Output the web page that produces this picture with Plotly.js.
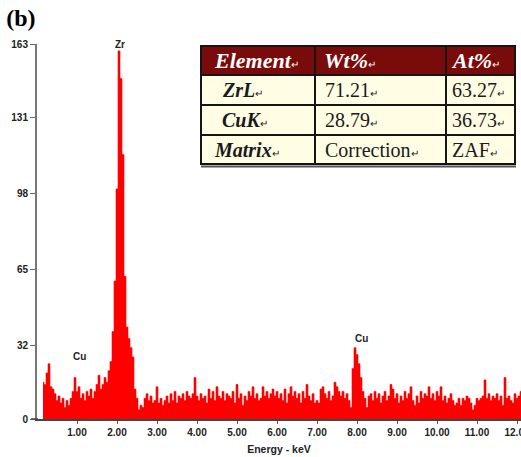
<!DOCTYPE html>
<html>
<head>
<meta charset="utf-8">
<script src="https://cdn.plot.ly/plotly-3.0.1.min.js"></script>
<style>html,body{margin:0;padding:0;background:#fff;}#chart{width:521px;height:457px;}</style>
</head>
<body>
<div id="chart"></div>
<script>
// EDS spectrum: channel calibration (keV) and counts per channel
const channelStart = 0.15;
const channelWidth = 0.05;
const counts = [
  16,15,20,24,14,13,11,8,10,7,9,5,8,6,9,12,18,12,14,9,            // 0.15 - 1.10
  11,8,12,10,13,9,12,15,19,13,15,18,16,21,25,38,60,100,160,148,   // 1.15 - 2.10
  115,62,40,35,31,27,13,9,4,6,5,9,11,8,10,7,8,14,7,9,             // 2.15 - 3.10
  6,8,10,7,11,8,12,7,10,9,11,8,12,10,9,11,18,10,8,11,             // 3.15 - 4.10
  9,10,7,13,9,12,8,14,10,9,12,8,11,10,9,12,7,15,9,11,             // 4.15 - 5.10
  6,10,8,12,10,14,9,11,8,9,14,10,12,9,11,13,10,12,9,11,           // 5.15 - 6.10
  8,13,7,11,14,10,12,9,11,7,12,9,15,10,8,11,7,8,7,13,             // 6.15 - 7.10
  14,11,9,12,8,10,16,14,12,10,12,9,11,8,5,22,31,28,24,18,         // 7.15 - 8.10
  12,9,5,10,11,8,12,9,11,7,10,12,8,10,15,13,9,11,7,10,            // 8.15 - 9.10
  8,12,9,11,14,8,6,10,7,12,9,11,10,14,9,11,8,12,10,14,            // 9.15 - 10.10
  8,10,7,9,11,8,6,7,9,6,9,8,10,9,7,4,6,9,8,9,                     // 10.15 - 11.10
  10,17,9,11,8,10,9,11,8,10,6,18,9,10,8,7,11,9,10,12              // 11.15 - 12.10
];

const yTicks = [0, 32, 65, 98, 131, 163];
const xTickVals = [1,2,3,4,5,6,7,8,9,10,11,12];
const xTickText = ["1.00","2.00","3.00","4.00","5.00","6.00","7.00","8.00","9.00","10.00","11.00","12.00"];

const peakLabels = ["Zr", "Cu", "Cu"];
const peakEnergy = [2.07, 1.07, 8.12];
const peakLabelY = [163, 27, 35];

// Quantification table
const tableHeader = ["Element", "Wt%", "At%"];
const elementCol = ["ZrL", "CuK", "Matrix"];
const wtCol = ["71.21", "28.79", "Correction"];
const atCol = ["63.27", "36.73", "ZAF"];

// ---- layout geometry (pixels in the 521x457 page) ----
const W = 521, H = 457;
const M = {l: 37, r: 0, t: 44, b: 38};
const plotW = W - M.l - M.r, plotH = H - M.t - M.b;
const px = X => (X - M.l) / plotW;
const py = Y => (H - M.b - Y) / plotH;
const colEdges = [201, 315, 446, 515];
const rowEdges = [46, 75, 105, 135, 164];
const textPad = [[11, 7, 3], [19, 8, 4], [19, 8, 4], [11, 8, 4]];

const RET = '<span style="font-size:10px">\u21b5</span>';
const rows = [tableHeader].concat(elementCol.map((e, i) => [e, wtCol[i], atCol[i]]));

const shapes = [];
const annotations = [];
rows.forEach((row, r) => {
  row.forEach((val, c) => {
    shapes.push({
      type: 'rect', xref: 'paper', yref: 'paper', layer: 'above',
      x0: px(colEdges[c]), x1: px(colEdges[c + 1]),
      y0: py(rowEdges[r + 1]), y1: py(rowEdges[r]),
      fillcolor: r === 0 ? '#7a0b0b' : '#fffde3',
      line: {color: '#151515', width: 2}
    });
    const styled = (r === 0 || c === 0) ? '<b><i>' + val + '</i></b>' : val;
    annotations.push({
      xref: 'paper', yref: 'paper',
      x: px(colEdges[c] + textPad[r][c]), y: py((rowEdges[r] + rowEdges[r + 1]) / 2),
      xanchor: 'left', yanchor: 'middle', showarrow: false,
      text: styled + RET,
      font: {family: 'Liberation Serif', size: r === 0 ? 22 : 20, color: r === 0 ? '#ffffff' : '#1a1a1a'}
    });
  });
});
// thick bottom rule with soft shadow
shapes.push({type: 'line', xref: 'paper', yref: 'paper', layer: 'above',
  x0: px(colEdges[0]), x1: px(colEdges[3] + 1), y0: py(rowEdges[4] + 2.5), y1: py(rowEdges[4] + 2.5),
  line: {color: '#555', width: 2}});
// x-axis line runs a little past the y axis on the left
shapes.push({type: 'line', xref: 'paper', yref: 'paper', layer: 'above',
  x0: px(31), x1: px(38), y0: 0, y1: 0, line: {color: '#444', width: 1.5}});

const spectrum = {
  type: 'scatter',
  mode: 'lines',
  y: counts,
  x0: channelStart,
  dx: channelWidth,
  line: {shape: 'hvh', color: '#ff0000', width: 0.6},
  fill: 'tozeroy',
  fillcolor: '#ff0000',
  hoverinfo: 'skip',
  showlegend: false
};

peakLabels.forEach((t, i) => annotations.push({
  x: peakEnergy[i], y: peakLabelY[i], xref: 'x', yref: 'y',
  text: '<b>' + t + '</b>', showarrow: false,
  font: {family: 'Liberation Sans', size: 10, color: '#222'},
  xanchor: 'center', yanchor: 'middle'
}));

const layout = {
  width: W,
  height: H,
  margin: M,
  paper_bgcolor: '#ffffff',
  plot_bgcolor: '#ffffff',
  title: {
    text: '<b>(b)</b>',
    font: {family: 'Liberation Serif', size: 24, color: '#000'},
    x: 0.012, xref: 'container', xanchor: 'left',
    y: 0.962, yref: 'container', yanchor: 'middle'
  },
  xaxis: {
    range: [0, 12.1],
    tickmode: 'array',
    tickvals: xTickVals,
    ticktext: xTickText,
    ticks: 'outside',
    ticklen: 3,
    tickcolor: '#555',
    showline: true,
    linecolor: '#444',
    linewidth: 1.5,
    showgrid: false,
    zeroline: false,
    ticklabeloverflow: 'allow',
    tickfont: {family: 'Liberation Sans', size: 10, color: '#222', weight: 'bold'},
    title: {text: '<b>Energy - keV</b>', font: {family: 'Liberation Sans', size: 10.5, color: '#222'}, standoff: 9}
  },
  yaxis: {
    range: [0, 163],
    tickmode: 'array',
    tickvals: yTicks,
    ticktext: yTicks.map(String),
    ticks: 'outside',
    ticklen: 5,
    tickcolor: '#666',
    showline: true,
    linecolor: '#777',
    linewidth: 2,
    showgrid: false,
    zeroline: false,
    tickfont: {family: 'Liberation Sans', size: 10, color: '#222', weight: 'bold'}
  },
  shapes: shapes,
  annotations: annotations
};

Plotly.newPlot('chart', [spectrum], layout, {displayModeBar: false, staticPlot: true});
</script>
</body>
</html>
